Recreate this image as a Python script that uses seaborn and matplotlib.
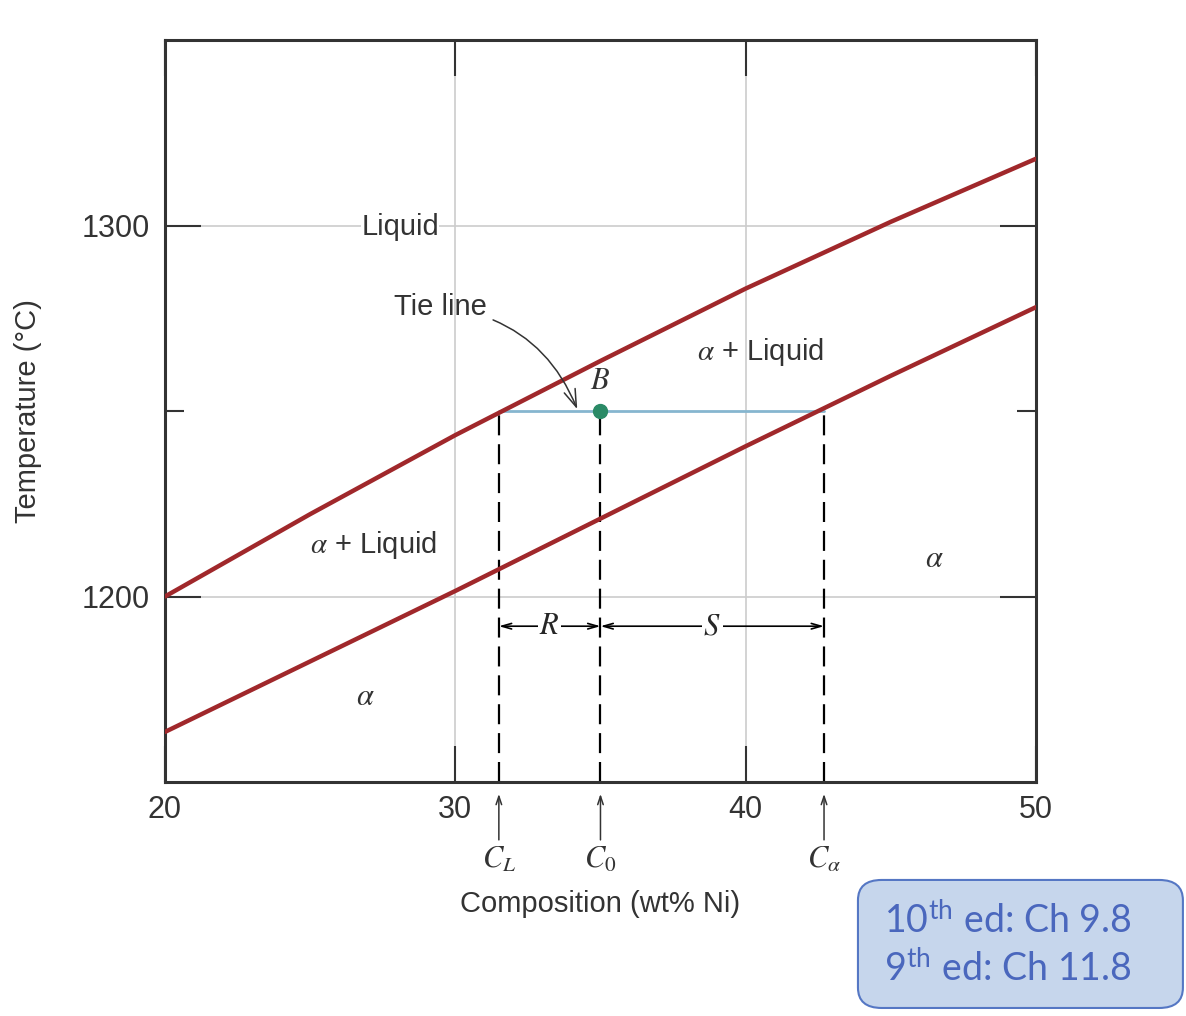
"""
Cu-Ni phase diagram detail: tie line and lever rule at point B
"""

import pandas as pd
import matplotlib
matplotlib.use("Agg")
import matplotlib.pyplot as plt
import matplotlib.transforms as mtransforms
from matplotlib.patches import FancyBboxPatch
import seaborn as sns

# boundary curves (wt% Ni -> deg C)
composition = [20, 25, 30, 35, 40, 45, 50]
liquidus = [1200, 1222.2, 1243.5, 1263.5, 1283, 1301, 1318]
solidus = [1163.5, 1182.5, 1201.5, 1221, 1240.5, 1259.5, 1278]

# tie line through point B
tie_temp = 1250
c_liquid = 31.5
c_zero = 35.0
c_alpha = 42.7
lever_temp = 1192

x_ticks = [20, 30, 40, 50]
y_ticks = [1200, 1300]
y_minor_ticks = [1250]

RED = "#a0282b"
INK = "#333333"
SANS = ["Liberation Sans", "DejaVu Sans"]


def draw_diagram(ax):
    df = pd.DataFrame({
        "composition": composition * 2,
        "temperature": liquidus + solidus,
        "curve": ["liquidus"] * len(composition) + ["solidus"] * len(composition),
    })
    sns.lineplot(data=df, x="composition", y="temperature", hue="curve",
                 palette=[RED, RED], linewidth=3.2, legend=False, ax=ax,
                 zorder=3)

    # tie line + point B
    ax.plot([c_liquid, c_alpha], [tie_temp, tie_temp], color="#86b6cf",
            lw=2, zorder=2)
    ax.plot([c_zero], [tie_temp], "o", color="#2a8a66", ms=10, zorder=5)

    # dashed drops to the composition axis
    for c in [c_liquid, c_zero, c_alpha]:
        ax.plot([c, c], [1150, tie_temp], color="black", lw=1.6,
                dashes=(9, 4), zorder=2)

    # lever arms R and S
    for x0, x1, name in [(c_liquid, c_zero, "R"), (c_zero, c_alpha, "S")]:
        ax.annotate("", xy=(x0, lever_temp), xytext=(x1, lever_temp),
                    arrowprops=dict(arrowstyle="<->,head_length=0.7,head_width=0.2",
                                    lw=1.2, color="black",
                                    shrinkA=0, shrinkB=0), zorder=4)
        ax.text((x0 + x1) / 2, lever_temp, f"${name}$", fontsize=22,
                ha="center", va="center", zorder=5,
                bbox=dict(facecolor="white", edgecolor="none", pad=1))

    # region labels
    ax.text(28.1, 1299.5, "Liquid", fontsize=21, ha="center", va="center",
            color=INK, zorder=5,
            bbox=dict(facecolor="white", edgecolor="none", pad=0))
    ax.text(40.5, 1266, r"$\alpha$ + Liquid", fontsize=21, ha="center",
            va="center", color=INK)
    ax.text(27.2, 1214, r"$\alpha$ + Liquid", fontsize=21, ha="center",
            va="center", color=INK)
    ax.text(26.9, 1173, r"$\alpha$", fontsize=22, ha="center", va="center",
            color=INK)
    ax.text(46.5, 1210, r"$\alpha$", fontsize=22, ha="center", va="center",
            color=INK)
    ax.text(35.0, 1258, r"$B$", fontsize=22, ha="center", va="center",
            color=INK)

    # tie line callout
    ax.annotate("Tie line", xy=(34.2, tie_temp + 0.5), xytext=(29.5, 1278),
                fontsize=21, ha="center", va="center", color=INK,
                arrowprops=dict(arrowstyle="->,head_length=0.6,head_width=0.2",
                                lw=1.1, color=INK,
                                connectionstyle="arc3,rad=-0.3",
                                shrinkA=2, shrinkB=0))

    # arrows under the axis marking C_L, C_0, C_alpha
    trans = mtransforms.blended_transform_factory(ax.transData, ax.transAxes)
    for c, name in [(c_liquid, "$C_L$"), (c_zero, "$C_0$"),
                    (c_alpha, r"$C_\alpha$")]:
        ax.annotate("", xy=(c, -0.016), xytext=(c, -0.078),
                    xycoords=trans, textcoords=trans, annotation_clip=False,
                    arrowprops=dict(arrowstyle="->,head_length=0.6,head_width=0.2",
                                    lw=1.1, color=INK,
                                    shrinkA=0, shrinkB=0))
        ax.text(c, -0.085, name, transform=trans, fontsize=22, ha="center",
                va="top", color=INK)


def style_axes(ax):
    ax.set_xlim(20, 50)
    ax.set_ylim(1150, 1350)
    ax.set_xticks(x_ticks)
    ax.set_yticks(y_ticks)
    ax.set_yticks(y_minor_ticks, minor=True)
    ax.grid(True, which="major", color="#cccccc", lw=1.2, zorder=0)
    ax.set_axisbelow(True)

    ax.tick_params(which="major", direction="in", length=26, width=1.5,
                   top=True, right=True, labelsize=22, labelcolor=INK,
                   color=INK, pad=9)
    ax.tick_params(which="minor", direction="in", length=14, width=1.5,
                   left=True, right=True, color=INK)
    ax.tick_params(axis="y", which="major", pad=11)

    for spine in ax.spines.values():
        spine.set_visible(True)
        spine.set_linewidth(2.2)
        spine.set_color(INK)

    ax.set_xlabel("Composition (wt% Ni)", fontsize=21, color=INK)
    ax.set_ylabel("Temperature (°C)", fontsize=21, color=INK)
    ax.xaxis.set_label_coords(0.5, -0.145)
    ax.yaxis.set_label_coords(-0.141, 0.5)


def add_reference_box(fig):
    box = FancyBboxPatch((0.7234, 0.0079), 0.274, 0.126,
                         boxstyle="round,pad=0,rounding_size=0.02",
                         transform=fig.transFigure, facecolor="#c6d6ec",
                         edgecolor="#5577c4", lw=1.5)
    fig.add_artist(box)
    style = dict(fontsize=27, color="#4a67bd", ha="left", va="center",
                 family=["Lato", "DejaVu Sans"])
    fig.text(0.745, 0.093, r"10$^{\mathregular{th}}$ ed: Ch 9.8", **style)
    fig.text(0.745, 0.046, r"9$^{\mathregular{th}}$ ed: Ch 11.8", **style)


def main():
    sns.set_style("ticks")
    plt.rcParams["font.family"] = SANS
    plt.rcParams["mathtext.fontset"] = "stix"

    fig = plt.figure(figsize=(11.86, 10.16), dpi=100)
    ax = fig.add_axes([0.1391, 0.2303, 0.7344, 0.7303])

    draw_diagram(ax)
    style_axes(ax)
    add_reference_box(fig)

    fig.savefig("out.png", dpi=100)
    print("saved out.png")


if __name__ == "__main__":
    main()
